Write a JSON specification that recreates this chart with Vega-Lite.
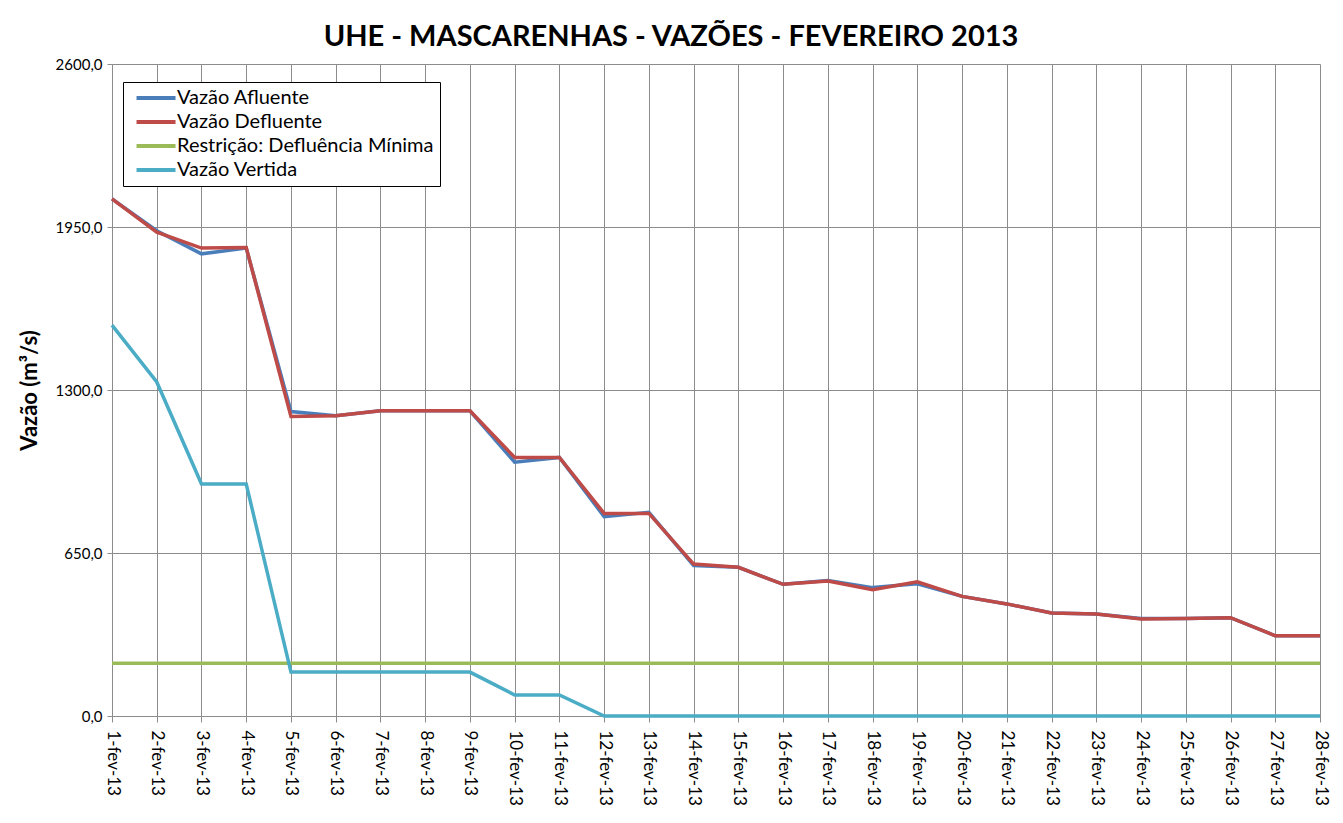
{
  "$schema": "https://vega.github.io/schema/vega-lite/v6.json",
  "width": 1208,
  "height": 652,
  "autosize": {"type": "none"},
  "padding": {"left": 112, "top": 64, "right": 23, "bottom": 107},
  "background": "white",
  "title": {
    "text": "UHE - MASCARENHAS - VAZÕES - FEVEREIRO 2013",
    "font": "Lato",
    "fontSize": 29,
    "fontWeight": "bold",
    "color": "black",
    "anchor": "middle",
    "dx": -45,
    "offset": 5
  },
  "data": {
    "values": [
      {"dia": "1-fev-13", "Vazão Afluente": 2062, "Vazão Defluente": 2062, "Restrição: Defluência Mínima": 210, "Vazão Vertida": 1559},
      {"dia": "2-fev-13", "Vazão Afluente": 1935, "Vazão Defluente": 1929, "Restrição: Defluência Mínima": 210, "Vazão Vertida": 1332},
      {"dia": "3-fev-13", "Vazão Afluente": 1843, "Vazão Defluente": 1866, "Restrição: Defluência Mínima": 210, "Vazão Vertida": 925},
      {"dia": "4-fev-13", "Vazão Afluente": 1866, "Vazão Defluente": 1868, "Restrição: Defluência Mínima": 210, "Vazão Vertida": 925},
      {"dia": "5-fev-13", "Vazão Afluente": 1214, "Vazão Defluente": 1194, "Restrição: Defluência Mínima": 210, "Vazão Vertida": 175},
      {"dia": "6-fev-13", "Vazão Afluente": 1197, "Vazão Defluente": 1197, "Restrição: Defluência Mínima": 210, "Vazão Vertida": 175},
      {"dia": "7-fev-13", "Vazão Afluente": 1217, "Vazão Defluente": 1217, "Restrição: Defluência Mínima": 210, "Vazão Vertida": 175},
      {"dia": "8-fev-13", "Vazão Afluente": 1217, "Vazão Defluente": 1217, "Restrição: Defluência Mínima": 210, "Vazão Vertida": 175},
      {"dia": "9-fev-13", "Vazão Afluente": 1217, "Vazão Defluente": 1217, "Restrição: Defluência Mínima": 210, "Vazão Vertida": 175},
      {"dia": "10-fev-13", "Vazão Afluente": 1012, "Vazão Defluente": 1031, "Restrição: Defluência Mínima": 210, "Vazão Vertida": 84},
      {"dia": "11-fev-13", "Vazão Afluente": 1031, "Vazão Defluente": 1031, "Restrição: Defluência Mínima": 210, "Vazão Vertida": 84},
      {"dia": "12-fev-13", "Vazão Afluente": 795, "Vazão Defluente": 808, "Restrição: Defluência Mínima": 210, "Vazão Vertida": 0},
      {"dia": "13-fev-13", "Vazão Afluente": 812, "Vazão Defluente": 808, "Restrição: Defluência Mínima": 210, "Vazão Vertida": 0},
      {"dia": "14-fev-13", "Vazão Afluente": 600, "Vazão Defluente": 606, "Restrição: Defluência Mínima": 210, "Vazão Vertida": 0},
      {"dia": "15-fev-13", "Vazão Afluente": 593, "Vazão Defluente": 593, "Restrição: Defluência Mínima": 210, "Vazão Vertida": 0},
      {"dia": "16-fev-13", "Vazão Afluente": 525, "Vazão Defluente": 525, "Restrição: Defluência Mínima": 210, "Vazão Vertida": 0},
      {"dia": "17-fev-13", "Vazão Afluente": 540, "Vazão Defluente": 538, "Restrição: Defluência Mínima": 210, "Vazão Vertida": 0},
      {"dia": "18-fev-13", "Vazão Afluente": 512, "Vazão Defluente": 504, "Restrição: Defluência Mínima": 210, "Vazão Vertida": 0},
      {"dia": "19-fev-13", "Vazão Afluente": 527, "Vazão Defluente": 535, "Restrição: Defluência Mínima": 210, "Vazão Vertida": 0},
      {"dia": "20-fev-13", "Vazão Afluente": 477, "Vazão Defluente": 477, "Restrição: Defluência Mínima": 210, "Vazão Vertida": 0},
      {"dia": "21-fev-13", "Vazão Afluente": 447, "Vazão Defluente": 447, "Restrição: Defluência Mínima": 210, "Vazão Vertida": 0},
      {"dia": "22-fev-13", "Vazão Afluente": 411, "Vazão Defluente": 411, "Restrição: Defluência Mínima": 210, "Vazão Vertida": 0},
      {"dia": "23-fev-13", "Vazão Afluente": 407, "Vazão Defluente": 407, "Restrição: Defluência Mínima": 210, "Vazão Vertida": 0},
      {"dia": "24-fev-13", "Vazão Afluente": 389, "Vazão Defluente": 387, "Restrição: Defluência Mínima": 210, "Vazão Vertida": 0},
      {"dia": "25-fev-13", "Vazão Afluente": 389, "Vazão Defluente": 389, "Restrição: Defluência Mínima": 210, "Vazão Vertida": 0},
      {"dia": "26-fev-13", "Vazão Afluente": 392, "Vazão Defluente": 392, "Restrição: Defluência Mínima": 210, "Vazão Vertida": 0},
      {"dia": "27-fev-13", "Vazão Afluente": 320, "Vazão Defluente": 320, "Restrição: Defluência Mínima": 210, "Vazão Vertida": 0},
      {"dia": "28-fev-13", "Vazão Afluente": 320, "Vazão Defluente": 320, "Restrição: Defluência Mínima": 210, "Vazão Vertida": 0}
    ]
  },
  "transform": [
    {"fold": ["Vazão Afluente", "Vazão Defluente", "Restrição: Defluência Mínima", "Vazão Vertida"], "as": ["serie", "vazao"]}
  ],
  "mark": {"type": "line", "strokeWidth": 3.5, "strokeJoin": "miter"},
  "encoding": {
    "x": {
      "field": "dia",
      "type": "ordinal",
      "sort": null,
      "scale": {"type": "point", "padding": 0},
      "axis": {
        "title": null,
        "labelAngle": 90,
        "labelAlign": "left",
        "labelBaseline": "middle",
        "labelFont": "Lato",
        "labelFontSize": 17,
        "labelColor": "black",
        "labelPadding": 8,
        "tickSize": 6,
        "tickColor": "#8c8c8c",
        "domainColor": "#8c8c8c",
        "grid": true,
        "gridColor": "#8c8c8c",
        "gridWidth": 1
      }
    },
    "y": {
      "field": "vazao",
      "type": "quantitative",
      "scale": {"domain": [0, 2600], "nice": false},
      "axis": {
        "values": [0, 650, 1300, 1950, 2600],
        "labelExpr": "replace(format(datum.value, '.1f'), '.', ',')",
        "labelFont": "Lato",
        "labelFontSize": 15,
        "labelColor": "black",
        "labelPadding": 5,
        "tickSize": 5,
        "tickColor": "#8c8c8c",
        "domainColor": "#8c8c8c",
        "gridColor": "#8c8c8c",
        "gridWidth": 1,
        "title": "Vazão (m³/s)",
        "titleFont": "Lato",
        "titleFontSize": 22,
        "titleFontWeight": "bold",
        "titleColor": "black",
        "titleX": -83,
        "titleY": 326,
        "titleAngle": -90,
        "titleAlign": "center",
        "titleBaseline": "middle"
      }
    },
    "color": {
      "field": "serie",
      "type": "nominal",
      "sort": null,
      "scale": {
        "domain": ["Vazão Afluente", "Vazão Defluente", "Restrição: Defluência Mínima", "Vazão Vertida"],
        "range": ["#4A7EBB", "#BE4B48", "#9BBB59", "#4BACC6"]
      },
      "legend": {
        "title": null,
        "orient": "none",
        "legendX": 11,
        "legendY": 18,
        "symbolType": "M-0.38,0L5.62,0",
        "symbolSize": 169,
        "symbolStrokeWidth": 4,
        "labelFont": "Lato",
        "labelFontSize": 20,
        "labelColor": "black",
        "labelOffset": 28,
        "labelExpr": "datum.label + '\u00a0\u00a0'",
        "rowPadding": 4,
        "padding": 6,
        "strokeColor": "black",
        "fillColor": "white",
        "labelLimit": 400
      }
    }
  },
  "config": {
    "view": {"stroke": null}
  }
}
